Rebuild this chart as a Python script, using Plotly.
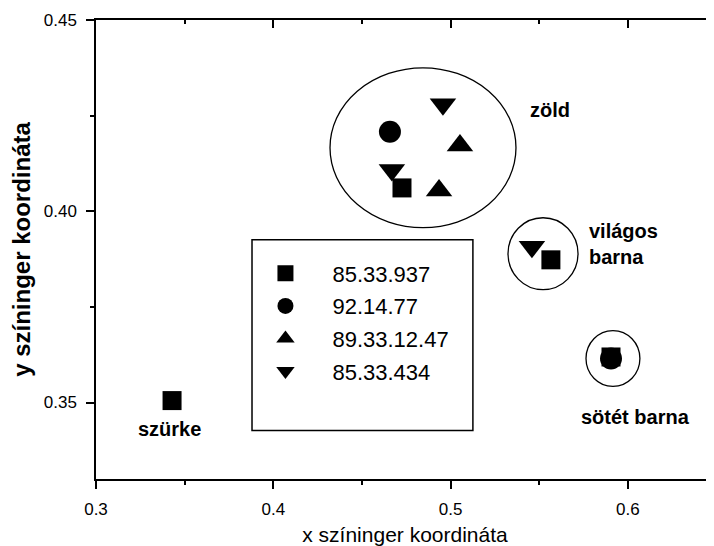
import plotly.graph_objects as go

# ---- data ----
series_names = ["85.33.937", "92.14.77", "89.33.12.47", "85.33.434"]
series_symbols = ["square", "circle", "triangle-up", "triangle-down"]
series_sizes = [19, 22, 23, 23]

sq_x = [0.3429, 0.4726, 0.5566, 0.5905]
sq_y = [0.3505, 0.4061, 0.3873, 0.3619]
ci_x = [0.4658, 0.5905]
ci_y = [0.4208, 0.3615]
tu_x = [0.5053, 0.4935]
tu_y = [0.4172, 0.4054]
td_x = [0.4957, 0.4669, 0.5459]
td_y = [0.4280, 0.4108, 0.3907]

series_x = [sq_x, ci_x, tu_x, td_x]
series_y = [sq_y, ci_y, tu_y, td_y]

# group ellipses (data coordinates)
ell_x0 = [0.4320, 0.5324, 0.5764]
ell_x1 = [0.5369, 0.5719, 0.6068]
ell_y0 = [0.3957, 0.3795, 0.3542]
ell_y1 = [0.4375, 0.3983, 0.3688]

# group labels
label_text = ["zöld", "világos<br>barna", "sötét barna", "szürke"]
label_x = [0.5561, 0.5769, 0.6043, 0.3412]
label_y = [0.4265, 0.3915, 0.3463, 0.3430]
label_anchor = ["center", "left", "center", "center"]

# legend frame
legbox_x = [0.3880, 0.5126]
legbox_y = [0.3427, 0.39256]

x_range = [0.3, 0.6486]
y_range = [0.33, 0.45]

FONT = "Liberation Sans, Arial, sans-serif"

fig = go.Figure()
for name, sym, sz, xs, ys in zip(series_names, series_symbols, series_sizes, series_x, series_y):
    fig.add_trace(go.Scatter(
        x=xs, y=ys, mode="markers", name=name, legendgroup=name,
        marker=dict(symbol=sym, size=sz, color="black", line=dict(width=0)),
    ))

# dummy trace for mirrored (top/right) axes
fig.add_trace(go.Scatter(x=[None], y=[None], xaxis="x2", yaxis="y2",
                         showlegend=False, hoverinfo="skip", mode="markers"))

for x0, x1, y0, y1 in zip(ell_x0, ell_x1, ell_y0, ell_y1):
    fig.add_shape(type="circle", xref="x", yref="y", x0=x0, x1=x1, y0=y0, y1=y1,
                  line=dict(color="black", width=1.3), layer="below")

fig.add_shape(type="rect", xref="x", yref="y", x0=legbox_x[0], x1=legbox_x[1],
              y0=legbox_y[0], y1=legbox_y[1], line=dict(color="black", width=1.5),
              layer="below")

for t, x, y, a in zip(label_text, label_x, label_y, label_anchor):
    fig.add_annotation(x=x, y=y, xref="x", yref="y", text=t, showarrow=False,
                       xanchor=a, yanchor="middle", align="left",
                       font=dict(family=FONT, size=20, color="black", weight="bold"))

axis_common = dict(showline=True, linecolor="black", linewidth=1.5, showgrid=False,
                   zeroline=False, ticklen=8, tickwidth=1.5, tickcolor="black",
                   automargin=False)

# page body has an 8px default margin, so the figure is sized to fit the window
fig.update_layout(
    width=706, height=538,
    margin=dict(l=88, r=0, t=12, b=67),
    paper_bgcolor="white", plot_bgcolor="white",
    font=dict(family=FONT, color="black"),
    xaxis=dict(range=x_range, dtick=0.1, tick0=0.3, tickformat=".1f", ticks="outside",
               minor=dict(dtick=0.05, ticklen=4, ticks="outside", tickcolor="black", tickwidth=1.5),
               tickfont=dict(size=17, family=FONT), ticklabelstandoff=6,
               title=dict(text="x színinger koordináta", font=dict(size=21, family=FONT), standoff=10),
               **axis_common),
    yaxis=dict(range=y_range, dtick=0.05, tick0=0.35, tickformat=".2f", ticks="outside",
               minor=dict(dtick=0.025, ticklen=4, ticks="outside", tickcolor="black", tickwidth=1.5),
               tickfont=dict(size=17, family=FONT), ticklabelstandoff=6,
               title=dict(text="y színinger koordináta", font=dict(size=24, family=FONT, weight="bold"), standoff=9),
               **axis_common),
    xaxis2=dict(range=x_range, overlaying="x", side="top", anchor="y2", dtick=0.1, tick0=0.3,
                ticks="inside", showticklabels=False,
                minor=dict(dtick=0.05, ticklen=4, ticks="inside", tickcolor="black", tickwidth=1.5),
                **axis_common),
    yaxis2=dict(range=y_range, overlaying="y", side="right", anchor="x2", dtick=0.05, tick0=0.35,
                ticks="inside", showticklabels=False,
                minor=dict(dtick=0.025, ticklen=4, ticks="inside", tickcolor="black", tickwidth=1.5),
                **axis_common),
    legend=dict(x=0.2305, y=0.4935, xanchor="left", yanchor="top", bgcolor="rgba(0,0,0,0)",
                borderwidth=0, font=dict(size=22, family=FONT), tracegroupgap=1,
                itemwidth=84),
    showlegend=True,
)

fig.write_html("out.html")
